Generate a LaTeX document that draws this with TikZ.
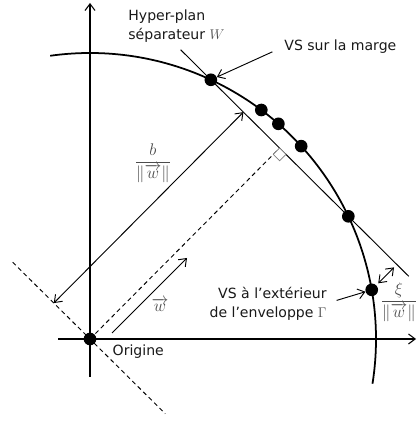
\documentclass[tikz,border=0pt]{standalone}
\usepackage{amsmath}
\usepackage{fontspec}
\setmainfont{DejaVu Sans}
\usetikzlibrary{positioning,calc,arrows.meta}

\colorlet{mathgray}{black!70}
\tikzset{
  >={Straight Barb[length=2mm,width=3mm]},
  axis/.style={->, line width=0.9pt},
  thin line/.style={line width=0.8pt},
  sv/.style={circle, fill=black, inner sep=0pt, minimum size=3.8mm},
  lbl/.style={font=\fontsize{12}{16}\selectfont, text=black!90, inner sep=1pt},
  mathlbl/.style={font=\fontsize{14}{17}\selectfont, text=mathgray, inner sep=1pt},
  pointer/.style={->, line width=0.8pt},
  dashline/.style={line width=0.8pt, dash pattern=on 1.3mm off 1mm},
}

\begin{document}
\begin{tikzpicture}[x=0.3mm, y=0.3mm]
  \useasboundingbox (-90,-82) rectangle (328,339);

  % axes
  \node[sv] (origin) at (0,0) {};
  \draw[axis] (-32,0) -- (326,0);
  \draw[axis] (0,-38) -- (0,336);

  % enveloppe Gamma
  \draw[line width=1.5pt] (98:286) arc[start angle=98, end angle=-9, radius=286];

  % vecteurs supports
  \foreach \a/\n in {65/1, 53.2/2, 48.8/3, 42.4/4, 25.4/5, 9.9/6}
    \node[sv] (sv\n) at (\a:286) {};

  % hyper-plan
  \draw[thin line] ($(sv1)!-0.22!(sv5)$) -- ($(sv1)!1.44!(sv5)$);
  \coordinate (foot) at ($(sv1)!(origin)!(sv5)$);
  \draw[dashline] (origin.center) -- (foot);
  \draw[dashline] (135.2:109) -- (-44.8:106);

  % angle droit
  \coordinate (ra1) at ($(foot)!2.7mm!(origin)$);
  \coordinate (ra2) at ($(foot)!2.7mm!(sv5)$);
  \draw[gray, line width=0.6pt, fill=white] (foot) -- (ra1) -- ($(ra1)+(ra2)-(foot)$) -- (ra2) -- cycle;

  % distance b/||w||
  \coordinate (b0) at (135.2:51);
  \coordinate (b1) at ($(b0)+(foot)$);
  \draw[<->, thin line] (b0) -- (b1);
  \node[mathlbl] (blbl) at (63,176) {$\dfrac{b}{\|\overrightarrow{w}\|}$};

  % vecteur w
  \coordinate (w0) at (22,6);
  \coordinate (w1) at (97,81);
  \draw[->, thin line] (w0) -- (w1);
  \node[mathlbl] (wlbl) at (70,34) {$\overrightarrow{w}$};

  % marge xi
  \coordinate (xi) at ($(sv1)!(sv6)!(sv5)$);
  \draw[<->, thin line, shorten <=0.8mm, shorten >=1.2mm] (sv6) -- (xi);
  \node[mathlbl] (xilbl) at (309,37) {$\dfrac{\xi}{\|\overrightarrow{w}\|}$};

  % textes
  \node[lbl, align=left, anchor=west] (hyp) at (37,313) {Hyper-plan\\séparateur \textcolor{mathgray}{$W$}};
  \node[lbl, anchor=west] (vsm) at (193,292) {VS sur la marge};
  \draw[pointer, shorten <=3.5mm] (vsm.west) -- (sv1);
  \node[lbl, align=right, anchor=east] (vse) at (238,35) {VS à l’extérieur\\de l’enveloppe \textcolor{mathgray}{$\Gamma$}};
  \draw[pointer, shorten <=2.7mm] (vse.east |- 0,36) -- (sv6);
  \node[lbl, below right=0mm and 5mm of origin] (origlbl) {Origine};
\end{tikzpicture}
\end{document}
